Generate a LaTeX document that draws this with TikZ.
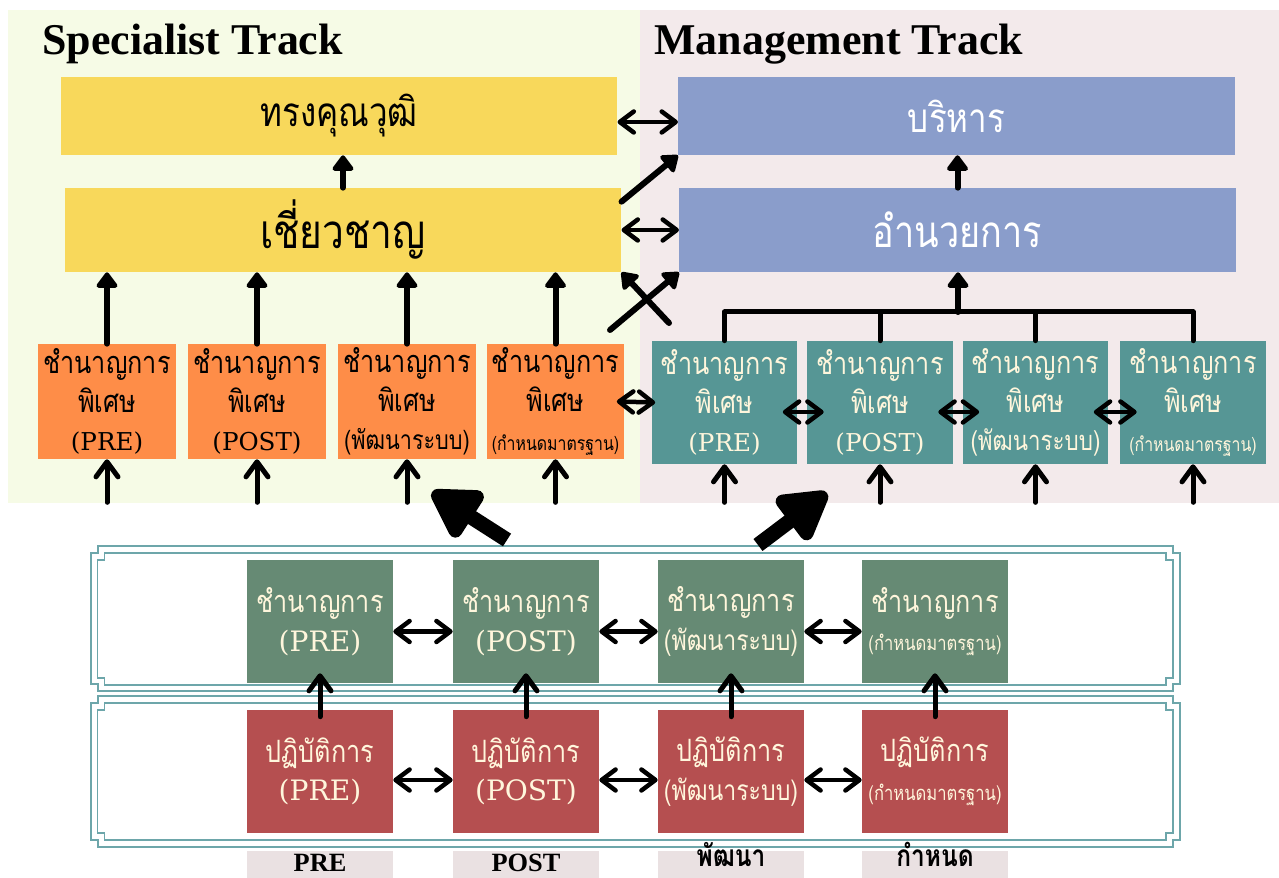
\documentclass[tikz,border=0pt]{standalone}
\usepackage{fontspec}
\setmainfont{Liberation Serif}
\newfontfamily\thai[Script=Thai,FakeStretch=0.82]{Loma}
\newfontfamily\slab{DejaVu Serif}
\usetikzlibrary{arrows.meta}
\definecolor{specbg}{HTML}{F6FBE6}
\definecolor{mgmtbg}{HTML}{F3EAEB}
\definecolor{gold}{HTML}{F8D85B}
\definecolor{lav}{HTML}{8A9DCB}
\definecolor{tang}{HTML}{FE8D48}
\definecolor{sea}{HTML}{569695}
\definecolor{sage}{HTML}{668A74}
\definecolor{brick}{HTML}{B54F50}
\definecolor{cream}{HTML}{FFF6DC}
\definecolor{rim}{HTML}{6DA6AA}
\definecolor{tag}{HTML}{EAE1E2}

\begin{document}
\begin{tikzpicture}[x=0.02cm,y=-0.02cm,
  wide/.style={inner sep=0pt,align=center,minimum width=11.13cm,font=\thai\fontsize{27}{30}\selectfont},
  cell/.style={inner sep=0pt,align=center,minimum width=2.92cm,minimum height=2.46cm,text=cream,font=\thai\fontsize{17.5}{22}\selectfont},
  tagbox/.style={fill=tag,inner sep=0pt,anchor=north,minimum width=2.92cm,text height=0.4cm,text depth=0.44cm},
  ln/.style={line width=0.1cm,line cap=round,line join=round},
  up/.style={ln,line width=0.12cm,-{Triangle[round,length=0.34cm,width=0.48cm]}},
  upo/.style={ln,-{Straight Barb[round,length=0.3cm,width=0.44cm]}},
  dbl/.style={ln,line width=0.09cm,{Straight Barb[round,length=0.28cm,width=0.42cm]}-{Straight Barb[round,length=0.28cm,width=0.42cm]}},
  big/.style={line width=0.3cm,-{Triangle[round,length=1.1cm,width=1.2cm]}},
  frame/.style={rim,line width=0.04cm,double=white,double distance=0.1cm}]
\useasboundingbox (0,0) rectangle (1279,878);
\fill[white] (0,0) rectangle (1279,878);
\fill[specbg] (8,10) rectangle (640,503);
\fill[mgmtbg] (640,10) rectangle (1279,503);
\node[anchor=base west,inner sep=0pt,font=\bfseries\fontsize{25}{28}\selectfont] (spec) at (42,55) {Specialist Track};
\node[anchor=base west,inner sep=0pt,font=\bfseries\fontsize{25}{28}\selectfont] (mgmt) at (654,55) {Management Track};

\foreach \t/\b in {549.5/688,699.5/843}
  \draw[frame] (101,\t) -- (1169,\t) -- (1169,\t+7) -- (1176,\t+7) -- (1176,\b-7) -- (1169,\b-7) -- (1169,\b)
    -- (101,\b) -- (101,\b-7) -- (94,\b-7) -- (94,\t+7) -- (101,\t+7) -- cycle;

\node[wide,fill=gold,minimum height=1.56cm,font=\thai\fontsize{23}{26}\selectfont] (qual) at (339,116) {ทรงคุณวุฒิ};
\node[wide,fill=gold,minimum height=1.68cm] (expert) at (343,230) {เชี่ยวชาญ};
\node[wide,fill=lav,text=white,minimum height=1.56cm,font=\thai\fontsize{23}{26}\selectfont] (exec) at (956.5,116) {บริหาร};
\node[wide,fill=lav,text=white,minimum height=1.68cm,font=\thai\fontsize{25}{30}\selectfont] (direc) at (957.5,230) {อำนวยการ};

\node[cell,fill=tang,text=black,minimum width=2.76cm,minimum height=2.3cm] (o1) at (107,401.5) {ชำนาญการ\\พิเศษ\\{\slab\fontsize{14}{22}\selectfont(PRE)}};
\node[cell,fill=tang,text=black,minimum width=2.76cm,minimum height=2.3cm] (o2) at (257,401.5) {ชำนาญการ\\พิเศษ\\{\slab\fontsize{14}{22}\selectfont(POST)}};
\node[cell,fill=tang,text=black,minimum width=2.76cm,minimum height=2.3cm] (o3) at (407,401.5) {ชำนาญการ\\พิเศษ\\{\fontsize{15}{22}\selectfont(พัฒนาระบบ)}};
\node[cell,fill=tang,text=black,minimum width=2.76cm,minimum height=2.3cm] (o4) at (555.5,401.5) {ชำนาญการ\\พิเศษ\\{\fontsize{11}{16}\selectfont(กำหนดมาตรฐาน)}};

\node[cell,fill=sea] (t1) at (724.5,402.5) {ชำนาญการ\\พิเศษ\\{\slab\fontsize{14}{22}\selectfont(PRE)}};
\node[cell,fill=sea] (t2) at (880,402.5) {ชำนาญการ\\พิเศษ\\{\slab\fontsize{14}{22}\selectfont(POST)}};
\node[cell,fill=sea] (t3) at (1035.5,402.5) {ชำนาญการ\\พิเศษ\\{\fontsize{15.5}{22}\selectfont(พัฒนาระบบ)}};
\node[cell,fill=sea] (t4) at (1193,402.5) {ชำนาญการ\\พิเศษ\\{\fontsize{11}{16}\selectfont(กำหนดมาตรฐาน)}};

\node[cell,fill=sage] (g1) at (320,621.5) {ชำนาญการ\\{\slab\fontsize{16}{24}\selectfont(PRE)}};
\node[cell,fill=sage] (g2) at (526,621.5) {ชำนาญการ\\{\slab\fontsize{16}{24}\selectfont(POST)}};
\node[cell,fill=sage] (g3) at (731,621.5) {ชำนาญการ\\{\fontsize{16}{22}\selectfont(พัฒนาระบบ)}};
\node[cell,fill=sage] (g4) at (935,621.5) {ชำนาญการ\\{\fontsize{11.5}{18}\selectfont(กำหนดมาตรฐาน)}};

\node[cell,fill=brick] (r1) at (320,771.5) {ปฏิบัติการ\\{\slab\fontsize{16}{24}\selectfont(PRE)}};
\node[cell,fill=brick] (r2) at (526,771.5) {ปฏิบัติการ\\{\slab\fontsize{16}{24}\selectfont(POST)}};
\node[cell,fill=brick] (r3) at (731,771.5) {ปฏิบัติการ\\{\fontsize{16}{22}\selectfont(พัฒนาระบบ)}};
\node[cell,fill=brick] (r4) at (935,771.5) {ปฏิบัติการ\\{\fontsize{11.5}{18}\selectfont(กำหนดมาตรฐาน)}};

\node[tagbox,font=\bfseries\fontsize{15}{18}\selectfont] (l1) at (320,851) {PRE};
\node[tagbox,font=\bfseries\fontsize{15}{18}\selectfont] (l2) at (526,851) {POST};
\node[tagbox,text height=0.3cm,text depth=0.54cm,font=\thai\bfseries\fontsize{17}{18}\selectfont] (l3) at (731,851) {พัฒนา};
\node[tagbox,text height=0.3cm,text depth=0.54cm,font=\thai\bfseries\fontsize{17}{18}\selectfont] (l4) at (935,851) {กำหนด};

\draw[up] (expert.north) -- (expert.north |- qual.south);
\draw[up] (direc.north) -- (direc.north |- exec.south);
\draw[dbl] ([yshift=-0.12cm]qual.east) -- ([yshift=-0.12cm]exec.west);
\draw[dbl] (expert.east) -- (direc.west);
\draw[up] ([yshift=-0.28cm]expert.north east) -- (exec.south west);
\coordinate (xa) at (610,330);
\coordinate (xb) at (669,323);
\draw[up] (xa) -- (direc.south west);
\draw[up] (xb) -- (expert.south east);

\coordinate (bar) at (958,312);
\draw[ln] (t1.north) |- (bar) -| (t4.north);
\draw[ln] (t2.north) -- (t2.north |- bar);
\draw[ln] (t3.north) -- (t3.north |- bar);
\draw[up] (bar) -- (bar |- direc.south);

\foreach \n in {1,...,4} {
  \draw[up] (o\n.north) -- (o\n.north |- expert.south);
  \draw[upo] ([yshift=-0.86cm]o\n.south) -- (o\n.south);
  \draw[upo] ([yshift=-0.76cm]t\n.south) -- (t\n.south);
  \draw[upo] ([yshift=-0.14cm]r\n.north) -- ([yshift=0.2cm]g\n.south);
}
\draw[dbl] ([xshift=-0.16cm]o4.east) -- ([xshift=0.08cm]t1.west);
\foreach \a/\b in {1/2,2/3,3/4}
  \draw[dbl] ([xshift=-0.3cm,yshift=-0.19cm]t\a.east) -- ([xshift=0.34cm,yshift=-0.19cm]t\b.west);
\foreach \a/\b in {1/2,2/3,3/4} {
  \draw[dbl] ([yshift=-0.2cm]g\a.east) -- ([yshift=-0.2cm]g\b.west);
  \draw[dbl] ([yshift=-0.17cm]r\a.east) -- ([yshift=-0.17cm]r\b.west);
}

\coordinate (bigla) at (507,540);
\coordinate (biglb) at (432,492);
\coordinate (bigra) at (758,545);
\coordinate (bigrb) at (827,493);
\draw[big] (bigla) -- (biglb);
\draw[big] (bigra) -- (bigrb);
\end{tikzpicture}
\end{document}
